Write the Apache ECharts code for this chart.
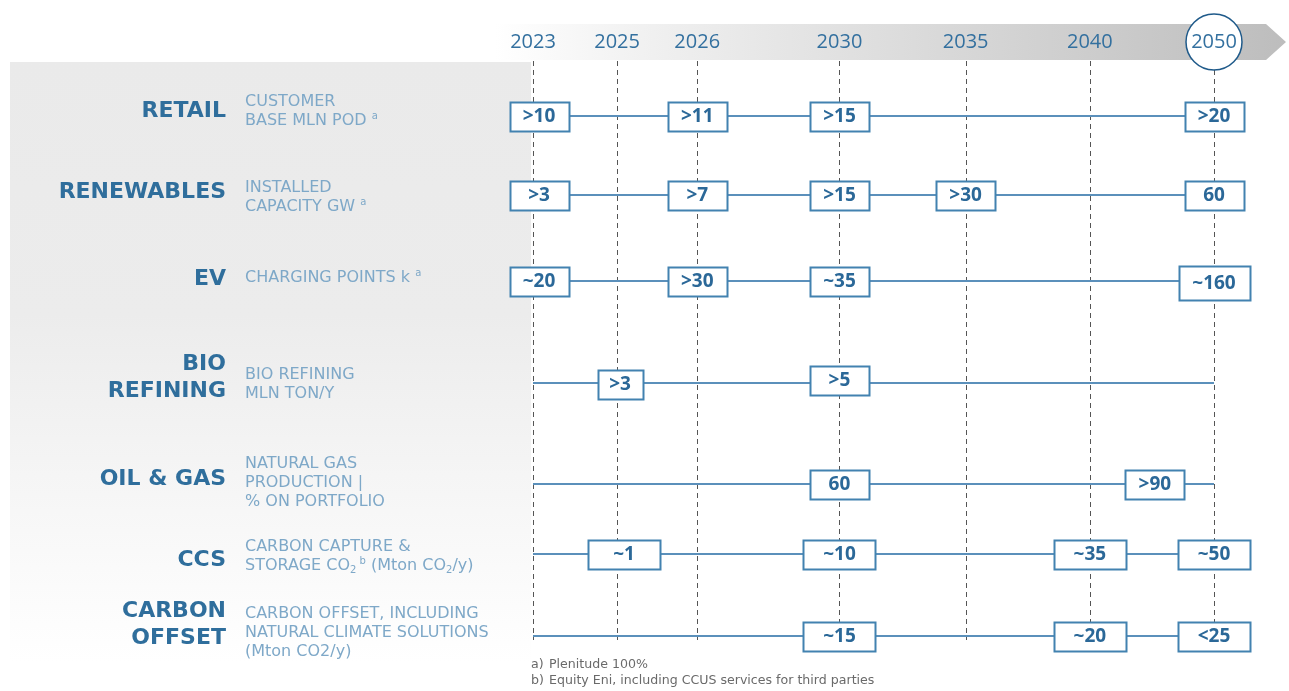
<!DOCTYPE html>
<html><head><meta charset="utf-8">
<script src="https://cdn.jsdelivr.net/npm/echarts@6/dist/echarts.min.js"></script>
<style>html,body{margin:0;padding:0;background:#fff}#c{width:1289px;height:691px}</style>
</head><body><div id="c"></div>
<script>
// ------------------------- DATA -------------------------
const years = ['2023', '2025', '2026', '2030', '2035', '2040', '2050'];
const sectors = ['RETAIL', 'RENEWABLES', 'EV', 'BIO\nREFINING', 'OIL & GAS', 'CCS', 'CARBON\nOFFSET'];
const metrics = [
  'CUSTOMER\nBASE MLN POD {sup|a}',
  'INSTALLED\nCAPACITY GW {sup|a}',
  'CHARGING POINTS k {sup|a}',
  'BIO REFINING\nMLN TON/Y',
  'NATURAL GAS\nPRODUCTION |\n% ON PORTFOLIO',
  'CARBON CAPTURE &\nSTORAGE CO{sub|2}{sup| b} (Mton CO{sub|2}/y)',
  'CARBON OFFSET, INCLUDING\nNATURAL CLIMATE SOLUTIONS\n(Mton CO2/y)'
];
const retailTargets     = [['2023', '>10'], ['2026', '>11'], ['2030', '>15'], ['2050', '>20']];
const renewablesTargets = [['2023', '>3'], ['2026', '>7'], ['2030', '>15'], ['2035', '>30'], ['2050', '60']];
const evTargets         = [['2023', '~20'], ['2026', '>30'], ['2030', '~35'], ['2050', '~160']];
const bioTargets        = [['2025', '>3'], ['2030', '>5']];
const oilGasTargets     = [['2030', '60'], ['2045', '>90']];
const ccsTargets        = [['2025', '~1'], ['2030', '~10'], ['2040', '~35'], ['2050', '~50']];
const offsetTargets     = [['2030', '~15'], ['2040', '~20'], ['2050', '<25']];
const footnoteMarks = ['a)', 'b)'];
const footnotes = ['Plenitude 100%', 'Equity Eni, including CCUS services for third parties'];

// ------------------------- LAYOUT / STYLE -------------------------
// schematic (non-linear) placement of the milestone years along the arrow
const tickSlot = [0, 2.1, 4.1, 7.65, 10.8, 13.9, 17];
const rowSlot = [0, 3.95, 8.25, 13.35, 18.4, 21.9, 26];
const mainDy = [-5, -3, -2, -5, -5, 6, -11];
const subDy = [-5, 2, -3, 1, -1, 2, -3];
const targetRows = [retailTargets, renewablesTargets, evTargets, bioTargets, oilGasTargets, ccsTargets, offsetTargets];

const BLUE = '#2f6e9c', LIGHT = '#7ea8c8', LINE = '#5b90bb', BORDER = '#4282b0', BOXTXT = '#2b6898';
const FONT = '"Open Sans", "Noto Sans", sans-serif';
const WIDE = '"DejaVu Sans", sans-serif';

function slotOf(year) {
  const y = +year, ys = years.map(Number);
  for (let i = 0; i < ys.length - 1; i++) {
    if (y >= ys[i] && y <= ys[i + 1]) return tickSlot[i] + (tickSlot[i + 1] - tickSlot[i]) * (y - ys[i]) / (ys[i + 1] - ys[i]);
  }
  return tickSlot[ys.indexOf(y)];
}

const chart = echarts.init(document.getElementById('c'));

// boxes: [x, y, text, width, height, dx, dy]
const boxData = [];
targetRows.forEach((row, r) => {
  row.forEach(([yr, txt]) => {
    const tall = txt.length >= 4;
    let w = tall ? 71 : 59;
    if (r >= 5) w = 72;
    if (r === 3 && yr === '2025') w = 45;
    let dx = 0, dy = 0;
    if (yr === '2023') dx = 6;
    if (r === 5 && yr === '2025') dx = 7;
    if (r === 3 && yr === '2025') { dx = 3; dy = 1; }
    if (r === 3 && yr === '2030') dy = -3;
    if (r === 4 && yr === '2045') dx = 3;
    if (tall) dy = 2;
    boxData.push([slotOf(yr), rowSlot[r], txt, w, tall ? 34 : 29, dx, dy]);
  });
});

const lineSeries = rowSlot.map((rs, r) => ({
  type: 'line', silent: true, symbol: 'none', z: 3,
  data: [[tickSlot[0], rs], [tickSlot[tickSlot.length - 1], rs]],
  lineStyle: { color: LINE, width: 2 }
}));

const option = {
  animation: false,
  grid: { left: 533, right: 75, top: 116, bottom: 55 },
  xAxis: { type: 'value', min: 0, max: 17, show: false },
  yAxis: { type: 'value', min: 0, max: 26, inverse: true, show: false },
  graphic: [
    { type: 'rect', z: -10, shape: { x: 10, y: 62, width: 521, height: 600 },
      style: { fill: new echarts.graphic.LinearGradient(0, 0, 0, 1, [
        { offset: 0, color: '#eaeaea' }, { offset: 0.42, color: '#ececec' },
        { offset: 0.75, color: '#f7f7f7' }, { offset: 1, color: '#ffffff' }]) } },
    { type: 'polygon', z: -10, shape: { points: [[495, 24], [1266, 24], [1286, 42], [1266, 60], [495, 60]] },
      style: { fill: new echarts.graphic.LinearGradient(0, 0, 1, 0, [
        { offset: 0, color: '#ffffff' }, { offset: 0.2, color: '#f0f0f0' }, { offset: 1, color: '#bdbdbd' }]) } },
    ...footnotes.map((t, i) => ({ type: 'text', z: 10, x: 549, y: 665 + i * 16,
      style: { text: t, fill: '#6a6a6a', font: '12.6px ' + WIDE, verticalAlign: 'middle' } })),
    ...footnoteMarks.map((t, i) => ({ type: 'text', z: 10, x: 531, y: 665 + i * 16,
      style: { text: t, fill: '#6a6a6a', font: '12.6px ' + WIDE, verticalAlign: 'middle' } }))
  ],
  series: [
    {
      type: 'custom', z: 2, silent: true,
      data: years.map(y => [slotOf(y), y]),
      renderItem: function (params, api) {
        const cs = params.coordSys;
        const p = api.coord([api.value(0), 0]);
        const x = Math.round(p[0]) + 0.5;
        const children = [
          { type: 'line', shape: { x1: x, y1: cs.y - 55, x2: x, y2: cs.y + cs.height + 4 },
            style: { stroke: '#555', lineWidth: 1, lineDash: [5, 4] } }
        ];
        const yr = years[params.dataIndex];
        if (yr === '2050') {
          children.push({ type: 'circle', shape: { cx: p[0], cy: cs.y - 74, r: 28 },
            style: { fill: '#fff', stroke: '#1f5a8a', lineWidth: 1.5 } });
        }
        children.push({ type: 'text', x: p[0], y: cs.y - 74,
          style: { text: yr, fill: '#33709f', font: '20px ' + FONT, align: 'center', verticalAlign: 'middle' } });
        return { type: 'group', children: children };
      }
    },
    ...lineSeries,
    {
      type: 'custom', z: 6, silent: true,
      data: boxData,
      renderItem: function (params, api) {
        const d = boxData[params.dataIndex];
        const p = api.coord([api.value(0), api.value(1)]);
        const cx = p[0] + d[5], cy = p[1] + d[6], w = d[3], h = d[4];
        return { type: 'group', children: [
          { type: 'rect', shape: { x: Math.round(cx - w / 2) + 0.5, y: Math.round(cy - h / 2) + 0.5, width: w, height: h },
            style: { fill: '#fff', stroke: BORDER, lineWidth: 2 } },
          { type: 'text', x: cx, y: cy + 1,
            style: { text: d[2], fill: BOXTXT, font: 'bold 19px ' + FONT, align: 'center', verticalAlign: 'middle' } }
        ] };
      }
    }
  ]
};
chart.setOption(option);

// left-hand sector labels, aligned on the rows through the y scale
const labelGraphics = [];
rowSlot.forEach((rs, r) => {
  const py = chart.convertToPixel({ gridIndex: 0 }, [0, rs])[1];
  labelGraphics.push({ type: 'text', z: 10, x: 226, y: py + mainDy[r],
    style: { text: sectors[r], fill: BLUE, font: 'bold 22px ' + WIDE, align: 'right', verticalAlign: 'middle', lineHeight: 27 } });
  labelGraphics.push({ type: 'text', z: 10, x: 245, y: py + subDy[r],
    style: { text: metrics[r], fill: LIGHT, font: '16px ' + WIDE, align: 'left', verticalAlign: 'middle', lineHeight: 19,
      rich: {
        sup: { fontSize: 10, fill: LIGHT, verticalAlign: 'top', lineHeight: 19, padding: [0, 0, 6, 0], fontFamily: WIDE },
        sub: { fontSize: 10, fill: LIGHT, verticalAlign: 'bottom', lineHeight: 14, fontFamily: WIDE }
      } } });
});
chart.setOption({ graphic: option.graphic.concat(labelGraphics) });
</script>
</body></html>
